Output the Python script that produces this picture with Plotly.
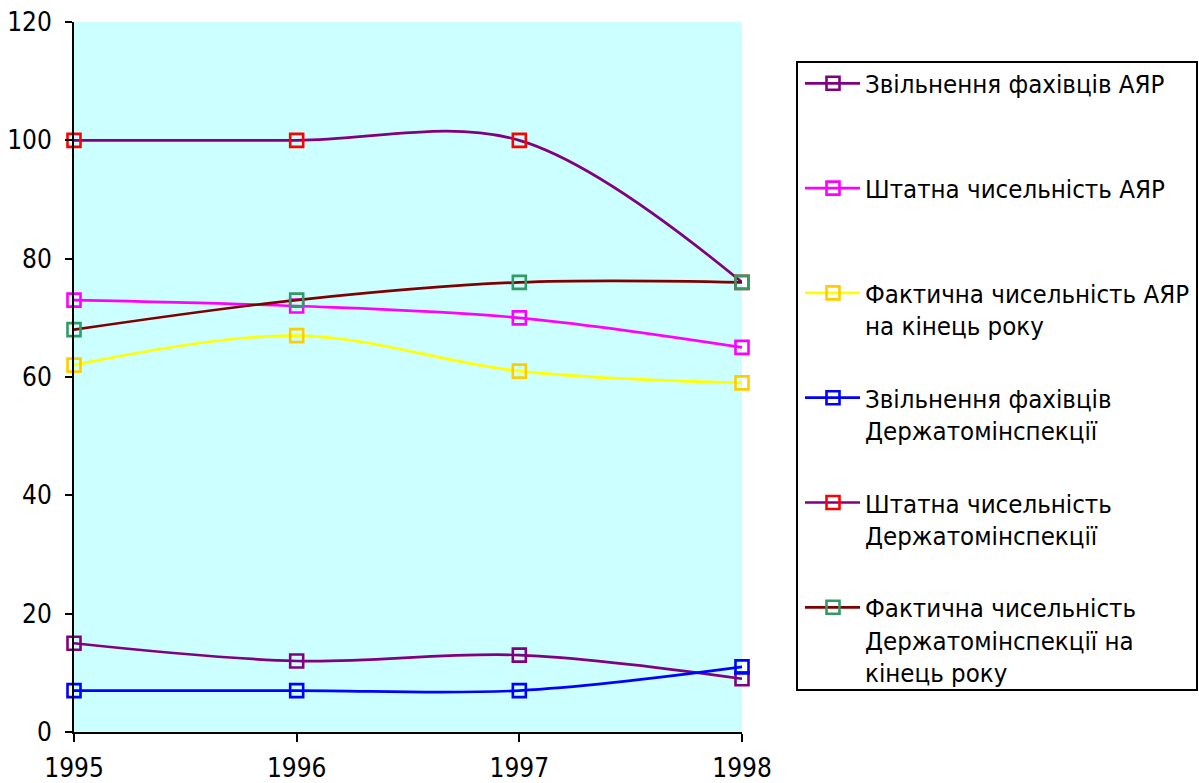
import plotly.graph_objects as go

# ---------------- data ----------------
years = [1995, 1996, 1997, 1998]

s1 = [15, 12, 13, 9]      # Звільнення фахівців АЯР
s2 = [73, 72, 70, 65]     # Штатна чисельність АЯР
s3 = [62, 67, 61, 59]     # Фактична чисельність АЯР на кінець року
s4 = [7, 7, 7, 11]        # Звільнення фахівців Держатомінспекції
s5 = [100, 100, 100, 76]  # Штатна чисельність Держатомінспекції
s6 = [68, 73, 76, 76]     # Фактична чисельність Держатомінспекції на кінець року

series_values = [s1, s2, s3, s4, s5, s6]

legend_lines = [
    ["Звільнення фахівців АЯР"],
    ["Штатна чисельність АЯР"],
    ["Фактична чисельність АЯР", "на кінець року"],
    ["Звільнення фахівців", "Держатомінспекції"],
    ["Штатна чисельність", "Держатомінспекції"],
    ["Фактична чисельність", "Держатомінспекції на", "кінець року"],
]
series_names = [" ".join(l) for l in legend_lines]

line_colors = ["#800080", "#FF00FF", "#FFFF00", "#0000FF", "#800080", "#800000"]
marker_colors = ["#800080", "#FF00FF", "#FFCC00", "#0000FF", "#FF0000", "#339966"]

y_ticks = [0, 20, 40, 60, 80, 100, 120]
x_ticks = years

# ---------------- layout geometry (page pixels) ----------------
W, H = 1199, 783
PL, PR, PT, PB = 74, 742, 22, 732
FONT = "Tahoma, 'DejaVu Sans Condensed', 'DejaVu Sans', sans-serif"
FS = 26
LFS = 25.6


def px_x(x):
    return (x - PL) / (PR - PL)


def px_y(y):
    return (PB - y) / (PB - PT)


fig = go.Figure()
for name, vals, lc, mc in zip(series_names, series_values, line_colors, marker_colors):
    fig.add_trace(go.Scatter(
        x=years, y=vals, name=name, mode="lines+markers",
        line=dict(color=lc, width=2.7, shape="spline", smoothing=1),
        marker=dict(symbol="square-open", size=13, color=mc,
                    line=dict(width=2.6, color=mc)),
        cliponaxis=False, showlegend=False,
    ))

shapes = []
annotations = []

# legend box
LB_L, LB_R, LB_T, LB_B = 797, 1197, 62, 690
shapes.append(dict(type="rect", xref="paper", yref="paper",
                   x0=px_x(LB_L), x1=px_x(LB_R), y0=px_y(LB_B), y1=px_y(LB_T),
                   line=dict(color="black", width=2), fillcolor="rgba(0,0,0,0)"))

first_y = 83.3
step = 104.8
line_gap = 32.5
sym_l, sym_r, sym_c = 805, 860, 833
half = 6.5
text_x = 863

for i, (lines, lc, mc) in enumerate(zip(legend_lines, line_colors, marker_colors)):
    yc = first_y + i * step
    shapes.append(dict(type="line", xref="paper", yref="paper",
                       x0=px_x(sym_l), x1=px_x(sym_r), y0=px_y(yc), y1=px_y(yc),
                       line=dict(color=lc, width=2.7)))
    shapes.append(dict(type="rect", xref="paper", yref="paper",
                       x0=px_x(sym_c - half), x1=px_x(sym_c + half),
                       y0=px_y(yc + half), y1=px_y(yc - half),
                       line=dict(color=mc, width=2.6), fillcolor="rgba(0,0,0,0)"))
    for k, t in enumerate(lines):
        annotations.append(dict(
            text=t, xref="paper", yref="paper",
            x=px_x(text_x), y=px_y(yc + k * line_gap + 1),
            xanchor="left", yanchor="middle", showarrow=False,
            font=dict(family=FONT, size=LFS, color="black"),
        ))

fig.update_layout(
    width=W, height=H, autosize=False,
    margin=dict(l=PL, r=W - PR, t=PT, b=H - PB, pad=0, autoexpand=False),
    paper_bgcolor="white", plot_bgcolor="#CCFFFF",
    font=dict(family=FONT, size=FS, color="black"),
    shapes=shapes, annotations=annotations,
    showlegend=False,
)
fig.update_xaxes(
    range=[1995, 1998], tickvals=x_ticks, ticktext=[str(v) for v in x_ticks],
    showgrid=False, zeroline=False, showline=True, linecolor="black", linewidth=2,
    ticks="outside", ticklen=8, tickwidth=2, tickcolor="black", automargin=False,
    tickfont=dict(family=FONT, size=FS, color="black"), ticklabelstandoff=4,
    ticklabeloverflow="allow",
)
fig.update_yaxes(
    range=[0, 120], tickvals=y_ticks,
    showgrid=False, zeroline=False, showline=True, linecolor="black", linewidth=2,
    ticks="outside", ticklen=7, tickwidth=2, tickcolor="black", automargin=False,
    tickfont=dict(family=FONT, size=FS, color="black"), ticklabelstandoff=8,
    ticklabeloverflow="allow",
)

fig.write_html(
    "out.html",
    config={"displayModeBar": False},
    post_script="document.body.style.margin='0';document.body.style.overflow='hidden';",
)
